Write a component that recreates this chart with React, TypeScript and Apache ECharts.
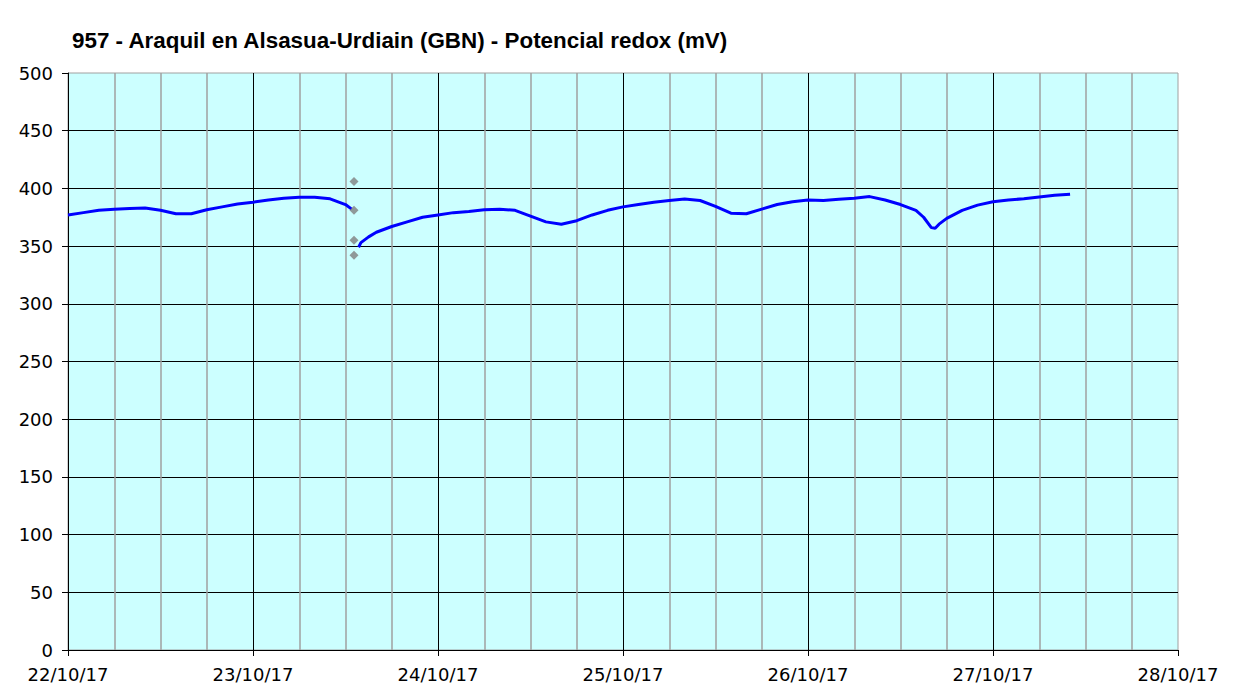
import React, { useEffect, useRef } from "react";
import * as echarts from "echarts";

const TITLE = "957 - Araquil en Alsasua-Urdiain (GBN) - Potencial redox (mV)";
const DAY_LABELS = ["22/10/17", "23/10/17", "24/10/17", "25/10/17", "26/10/17", "27/10/17", "28/10/17"];
// hours since 22/10/17 00:00
const HOURS = [
  0, 2, 4, 6, 8, 10, 12, 14, 16, 18, 20, 22, 24, 26, 28, 30, 32, 34, 36, 36.8, 37.3,
  37.7, 38, 39, 40, 42, 44, 46, 48, 50, 52, 54, 56, 58, 60, 62, 64, 66, 68, 70,
  72, 74, 76, 78, 80, 82, 84, 86, 88, 90, 92, 94, 96, 98, 100, 102, 104, 106, 108,
  110, 111, 112, 112.5, 113, 114, 116, 118, 120, 122, 124, 126, 128, 130,
];
const REDOX: (number | null)[] = [
  377, 379, 381, 382, 382.5, 383, 381, 378, 378, 381.5, 384, 386.5, 388, 390, 391.5, 392.3, 392.3, 391, 386, 382, null,
  349, 353, 358, 362, 367, 371, 375, 377, 379, 380, 381.5, 382, 381, 376, 371, 369, 372, 377, 381,
  384, 386, 388, 389.5, 390.8, 389.5, 384.5, 378.5, 378, 382, 386, 388.5, 390, 389.5, 390.5, 391.5, 392.9, 390, 386,
  381, 375, 366, 365.5, 369, 374, 381, 385.5, 388.5, 390, 391, 392.5, 394, 395,
];
const POINT_HOURS = [37.1, 37.1, 37.1, 37.1];
const POINT_VALUES = [406, 381, 355, 342];

export default function App() {
  const ref = useRef<HTMLDivElement>(null);
  useEffect(() => {
    const chart = echarts.init(ref.current!, null, { renderer: "svg" });
    const font = "'DejaVu Sans', Verdana, sans-serif";
    chart.setOption({
      animation: false,
      backgroundColor: "#ffffff",
      title: {
        text: TITLE,
        left: 72,
        top: 29,
        padding: 0,
        textStyle: { fontFamily: "'Liberation Sans', Arial, sans-serif", fontWeight: "bold", fontSize: 22.4, color: "#000" },
      },
      grid: {
        left: 68,
        top: 73,
        right: 60,
        bottom: 40,
        show: true,
        backgroundColor: "#CCFFFF",
        borderColor: "#A0A0A0",
        borderWidth: 1,
      },
      xAxis: {
        type: "value",
        min: 0,
        max: 144,
        interval: 24,
        axisLine: { show: true, onZero: false, lineStyle: { color: "#000", width: 1 } },
        axisTick: { show: true, length: 6, lineStyle: { color: "#000" } },
        axisLabel: {
          margin: 15,
          fontFamily: font,
          fontSize: 18,
          color: "#000",
          formatter: (v: number) => DAY_LABELS[Math.round(v / 24)] ?? "",
        },
        splitLine: { show: true, showMinLine: false, showMaxLine: false, lineStyle: { color: "#000", width: 1 } },
        minorTick: { show: false, splitNumber: 4 },
        minorSplitLine: { show: true, lineStyle: { color: "#A0A0A0", width: 1.5 } },
      },
      yAxis: {
        type: "value",
        min: 0,
        max: 500,
        interval: 50,
        axisLine: { show: true, lineStyle: { color: "#000", width: 1 } },
        axisTick: { show: true, length: 6, lineStyle: { color: "#000" } },
        axisLabel: { margin: 15, fontFamily: font, fontSize: 18, color: "#000" },
        splitLine: { show: true, showMinLine: false, showMaxLine: false, lineStyle: { color: "#000", width: 1 } },
      },
      series: [
        {
          type: "line",
          data: HOURS.map((h, i) => [h, REDOX[i]]),
          connectNulls: false,
          showSymbol: false,
          lineStyle: { color: "#0000FF", width: 3 },
          z: 3,
        },
        {
          type: "scatter",
          data: POINT_HOURS.map((h, i) => [h, POINT_VALUES[i]]),
          symbol: "diamond",
          symbolSize: 9,
          itemStyle: { color: "#808080" },
          z: 4,
        },
      ],
    });
    return () => chart.dispose();
  }, []);
  return <div ref={ref} style={{ position: "fixed", left: 0, top: 0, width: 1238, height: 690 }} />;
}
